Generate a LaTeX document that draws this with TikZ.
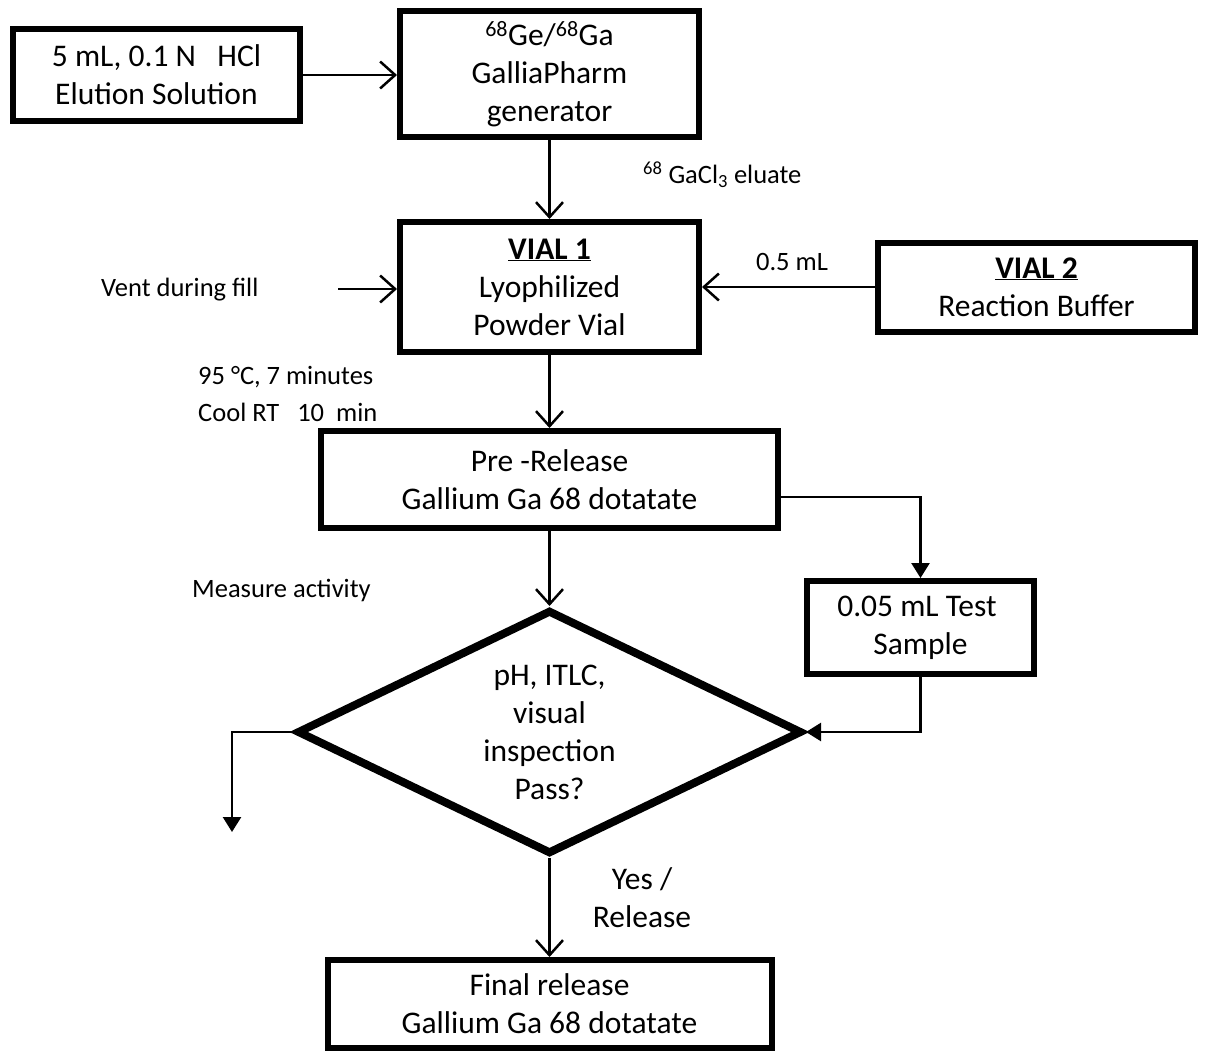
\documentclass[tikz,border=0pt]{standalone}
\usepackage{fontspec}
\setmainfont{Carlito}
\usetikzlibrary{positioning,arrows.meta,shapes.geometric}
\newcommand{\boxfont}{\fontsize{31.5}{38}\selectfont}
\newcommand{\notefont}{\fontsize{26.5}{35}\selectfont}
\tikzset{
  stage/.style={
    draw,
    line width=6pt,
    align=center,
    inner sep=0pt,
    font=\boxfont
  },
  note/.style={
    font=\notefont,
    inner sep=0pt,
    anchor=west
  },
  flow/.style={line width=2.5pt, -{Straight Barb[length=15pt,width=27pt,line width=2.5pt]}},
  feed/.style={line width=2.5pt, -{Triangle[length=15pt,width=18pt]}}
}

\begin{document}
\begin{tikzpicture}[x=1pt,y=-1pt]
        \useasboundingbox (0,0) rectangle (1205,1053);
        \node [stage, minimum width=299pt, minimum height=130pt] (vial1) at (549.5,287) {\underline{\textbf{VIAL 1}}\\Lyophilized\\Powder Vial};
        \node [stage, on grid, above=213pt of vial1, minimum width=299pt, minimum height=126pt] (gen) {\textsuperscript{68}Ge/\textsuperscript{68}Ga\\GalliaPharm\\generator};
        \node [stage, on grid, below left=1pt and 393pt of gen, minimum width=287pt, minimum height=92pt] (elu) {5 mL, 0.1 N\ \ \ HCl\\Elution Solution};
        \node [stage, on grid, right=487pt of vial1, minimum width=317pt, minimum height=89pt] (vial2) {\underline{\textbf{VIAL 2}}\\Reaction Buffer};
        \node [stage, on grid, below=192.5pt of vial1, minimum width=457pt, minimum height=97pt] (pre) {Pre -Release\\Gallium Ga 68 dotatate};
        \node [stage, on grid, below right=148pt and 371pt of pre, minimum width=227pt, minimum height=93pt] (test) {0.05 mL Test\ \ \\Sample};
        \node [stage, diamond, aspect=2, line width=8pt, on grid, below=252.5pt of pre, minimum width=505pt, minimum height=244pt] (dia) {pH, ITLC,\\visual\\inspection\\Pass?};
        \node [stage, on grid, below=272pt of dia, minimum width=444pt, minimum height=88pt] (final) {Final release\\Gallium Ga 68 dotatate};
        \node [note] (eluate) at (643,175) {\textsuperscript{68} GaCl\textsubscript{3} eluate};
        \node [note, anchor=center] (dose) at (792,262) {0.5 mL};
        \node [note] (vent) at (101,290) {Vent during fill};
        \node [note] (heat) at (198,377) {95 °C, 7 minutes};
        \node [note] (cool) at (198,412) {Cool RT\ \ \ 10\ \ min};
        \node [note] (measure) at (192,590) {Measure activity};
        \node [stage, draw=none] (yes) at (642,898) {Yes /\\Release};
        \coordinate (ventin) at (338,289);
        \coordinate (reject) at (232,832);
        \draw [flow] (elu.east) -- (elu.east -| gen.west);
        \draw [flow] (gen) -- (vial1);
        \draw [flow] (ventin) -- (ventin -| vial1.west);
        \draw [flow] (vial2) -- (vial1);
        \draw [flow] (vial1) -- (pre);
        \draw [feed] ([yshift=-17.5pt]pre.east) -| (test);
        \draw [feed] (test) |- (dia.east);
        \draw [flow] (pre) -- (dia);
        \draw [feed] (dia.west) -| (reject);
        \draw [flow] (dia) -- (final);
      \end{tikzpicture}
\end{document}
